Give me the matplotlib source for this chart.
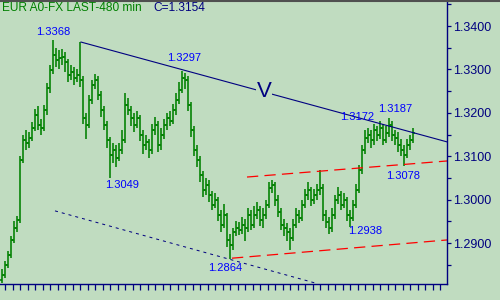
#! /usr/bin/env python3

import matplotlib
matplotlib.use('Agg')
import matplotlib.pyplot as plt
from matplotlib.ticker import MultipleLocator, FixedLocator
from matplotlib.lines import Line2D
import numpy as np

plt.rcParams['font.family'] = ['Liberation Sans', 'DejaVu Sans']

# EUR 480 min bars, open of each bar = previous close
first_open = 1.2815
close = [1.2826, 1.2849, 1.2872, 1.2907, 1.2935, 1.2953, 1.3091, 1.3137, 1.3130, 1.3142,
         1.3165, 1.3195, 1.3172, 1.3165, 1.3206, 1.3257, 1.3299, 1.3333, 1.3322, 1.3326,
         1.3329, 1.3317, 1.3287, 1.3294, 1.3280, 1.3287, 1.3276, 1.3188, 1.3172, 1.3229,
         1.3264, 1.3276, 1.3241, 1.3206, 1.3172, 1.3137, 1.3103, 1.3114, 1.3096, 1.3114,
         1.3137, 1.3218, 1.3206, 1.3188, 1.3172, 1.3188, 1.3149, 1.3126, 1.3133, 1.3114,
         1.3160, 1.3172, 1.3126, 1.3149, 1.3172, 1.3188, 1.3182, 1.3206, 1.3229, 1.3252,
         1.3280, 1.3276, 1.3218, 1.3160, 1.3114, 1.3091, 1.3057, 1.3022, 1.3034, 1.3011,
         1.2988, 1.2999, 1.2965, 1.2942, 1.2965, 1.2907, 1.2895, 1.2925, 1.2935, 1.2930,
         1.2942, 1.2935, 1.2965, 1.2942, 1.2965, 1.2976, 1.2953, 1.2965, 1.2988, 1.3027,
         1.3034, 1.2999, 1.2971, 1.2942, 1.2935, 1.2925, 1.2912, 1.2942, 1.2965, 1.2958,
         1.2988, 1.3011, 1.3022, 1.2999, 1.3011, 1.3022, 1.3027, 1.2965, 1.2948, 1.2935,
         1.2965, 1.2999, 1.3011, 1.2988, 1.2999, 1.2965, 1.2958, 1.2988, 1.3022, 1.3068,
         1.3114, 1.3142, 1.3149, 1.3137, 1.3160, 1.3149, 1.3165, 1.3137, 1.3154, 1.3172,
         1.3149, 1.3142, 1.3126, 1.3114, 1.3103, 1.3126, 1.3137, 1.3154]
high = [1.2840, 1.2858, 1.2881, 1.2915, 1.2950, 1.2962, 1.3100, 1.3150, 1.3160, 1.3155,
        1.3178, 1.3208, 1.3215, 1.3185, 1.3218, 1.3268, 1.3310, 1.3368, 1.3350, 1.3345,
        1.3348, 1.3340, 1.3325, 1.3310, 1.3305, 1.3300, 1.3363, 1.3285, 1.3200, 1.3240,
        1.3275, 1.3290, 1.3285, 1.3250, 1.3215, 1.3180, 1.3145, 1.3130, 1.3125, 1.3130,
        1.3160, 1.3245, 1.3235, 1.3215, 1.3200, 1.3205, 1.3195, 1.3160, 1.3150, 1.3140,
        1.3175, 1.3190, 1.3180, 1.3165, 1.3185, 1.3200, 1.3205, 1.3220, 1.3245, 1.3270,
        1.3297, 1.3292, 1.3285, 1.3225, 1.3170, 1.3125, 1.3100, 1.3065, 1.3050, 1.3045,
        1.3020, 1.3015, 1.3005, 1.2975, 1.2990, 1.2970, 1.2920, 1.2935, 1.2950, 1.2948,
        1.2960, 1.2955, 1.2980, 1.2975, 1.2985, 1.2995, 1.2985, 1.2980, 1.3000, 1.3040,
        1.3045, 1.3040, 1.3010, 1.2980, 1.2955, 1.2945, 1.2935, 1.2955, 1.2980, 1.2975,
        1.3000, 1.3025, 1.3040, 1.3030, 1.3025, 1.3035, 1.3068, 1.3035, 1.2975, 1.2960,
        1.2980, 1.3010, 1.3030, 1.3020, 1.3015, 1.3005, 1.2975, 1.3000, 1.3035, 1.3080,
        1.3125, 1.3160, 1.3165, 1.3160, 1.3175, 1.3170, 1.3180, 1.3175, 1.3170, 1.3187,
        1.3180, 1.3160, 1.3155, 1.3140, 1.3125, 1.3140, 1.3150, 1.3165]
low = [1.2807, 1.2820, 1.2842, 1.2866, 1.2900, 1.2925, 1.2945, 1.3085, 1.3115, 1.3120,
       1.3135, 1.3158, 1.3160, 1.3150, 1.3158, 1.3195, 1.3245, 1.3290, 1.3305, 1.3300,
       1.3310, 1.3295, 1.3270, 1.3275, 1.3265, 1.3270, 1.3260, 1.3175, 1.3140, 1.3165,
       1.3220, 1.3255, 1.3230, 1.3190, 1.3160, 1.3120, 1.3049, 1.3085, 1.3075, 1.3090,
       1.3105, 1.3130, 1.3195, 1.3170, 1.3155, 1.3165, 1.3135, 1.3105, 1.3115, 1.3095,
       1.3105, 1.3150, 1.3110, 1.3115, 1.3140, 1.3160, 1.3170, 1.3175, 1.3195, 1.3220,
       1.3245, 1.3255, 1.3205, 1.3145, 1.3100, 1.3075, 1.3040, 1.3005, 1.3010, 1.2995,
       1.2975, 1.2980, 1.2950, 1.2925, 1.2935, 1.2890, 1.2864, 1.2885, 1.2915, 1.2918,
       1.2920, 1.2905, 1.2925, 1.2930, 1.2935, 1.2955, 1.2940, 1.2935, 1.2955, 1.2980,
       1.3015, 1.2985, 1.2960, 1.2930, 1.2915, 1.2905, 1.2885, 1.2905, 1.2935, 1.2945,
       1.2950, 1.2980, 1.3000, 1.2985, 1.2990, 1.3000, 1.3010, 1.2950, 1.2935, 1.2920,
       1.2925, 1.2955, 1.2990, 1.2975, 1.2980, 1.2950, 1.2938, 1.2950, 1.2980, 1.3015,
       1.3060, 1.3105, 1.3130, 1.3120, 1.3125, 1.3135, 1.3140, 1.3125, 1.3130, 1.3145,
       1.3135, 1.3125, 1.3110, 1.3100, 1.3078, 1.3095, 1.3115, 1.3130]

# trend lines as (bar, price) end points
upper_line = ([26.33, 148.33], [1.3363, 1.3133])
lower_dotted = ([17.67, 105.33], [1.2974, 1.2806])
red_top = ([81.67, 148.33], [1.3052, 1.3089])
red_bottom = ([76.67, 148.33], [1.2865, 1.2907])

price_labels = ['1.3368', '1.3297', '1.3049', '1.2864', '1.3172', '1.3187', '1.2938', '1.3078']
label_pos = [(17, 1.3386), (60.67, 1.3326), (40, 1.30336), (74.33, 1.28424),
             (118.33, 1.31903), (131, 1.32088), (121, 1.29276), (133.67, 1.30544)]

bg = '#c0dcc0'
navy = '#000080'
green = '#008000'

fig = plt.figure(figsize=(5, 3), dpi=100, facecolor=bg)
ax = fig.add_axes([0, 16/300, 447/500, 284/300])
ax.set_facecolor(bg)

x = np.arange(len(close))
opn = [first_open] + close[:-1]
ax.vlines(x, low, high, color=green, lw=1.15)
ax.hlines(opn, x - 0.55, x, color=green, lw=1.15)
ax.hlines(close, x, x + 0.55, color=green, lw=1.15)

ax.plot(*upper_line, color=navy, lw=0.8)
ax.plot(*lower_dotted, color=navy, lw=0.72, dashes=(3, 4))
ax.plot(*red_top, color='red', lw=0.9, dashes=(9, 5))
ax.plot(*red_bottom, color='red', lw=0.9, dashes=(9, 5))

for t, (px, py) in zip(price_labels, label_pos):
    ax.text(px, py, t, color='#0000ff', fontsize=8, ha='center', va='center')

ax.text(87.33, 1.3250, 'V', color=navy, fontsize=16, ha='center', va='center',
        bbox=dict(facecolor=bg, edgecolor='none', pad=0.5))

ax.set_xlim(-0.667, 148.33)
ax.set_ylim(1.280553, 1.345991)

for s in ['left', 'top']:
    ax.spines[s].set_visible(False)
for s in ['right', 'bottom']:
    ax.spines[s].set_color(navy)
    ax.spines[s].set_linewidth(1.0)

ax.yaxis.tick_right()
ax.yaxis.set_major_locator(FixedLocator([1.29, 1.30, 1.31, 1.32, 1.33, 1.34]))
ax.yaxis.set_minor_locator(MultipleLocator(0.005))
ax.yaxis.set_major_formatter('{x:.4f}')
ax.tick_params(axis='y', which='both', direction='out', length=3.2, width=0.9,
               color=navy, labelcolor=navy, labelsize=9, pad=1.5)
ax.xaxis.set_major_locator(FixedLocator(np.arange(1, 148, 2.5)))
ax.tick_params(axis='x', direction='out', length=4.3, width=0.9, color=navy,
               labelbottom=False)

fig.text(2/500, 1 - 8/300, 'EUR A0-FX LAST-480 min', color=green, fontsize=8.6, va='center')
fig.text(153/500, 1 - 8/300, 'C=1.3154', color=navy, fontsize=8.6, va='center')
fig.add_artist(Line2D([0, 1], [0.998, 0.998], color='#505050', lw=1.5))

fig.savefig('out.png', dpi=100, facecolor=bg)
